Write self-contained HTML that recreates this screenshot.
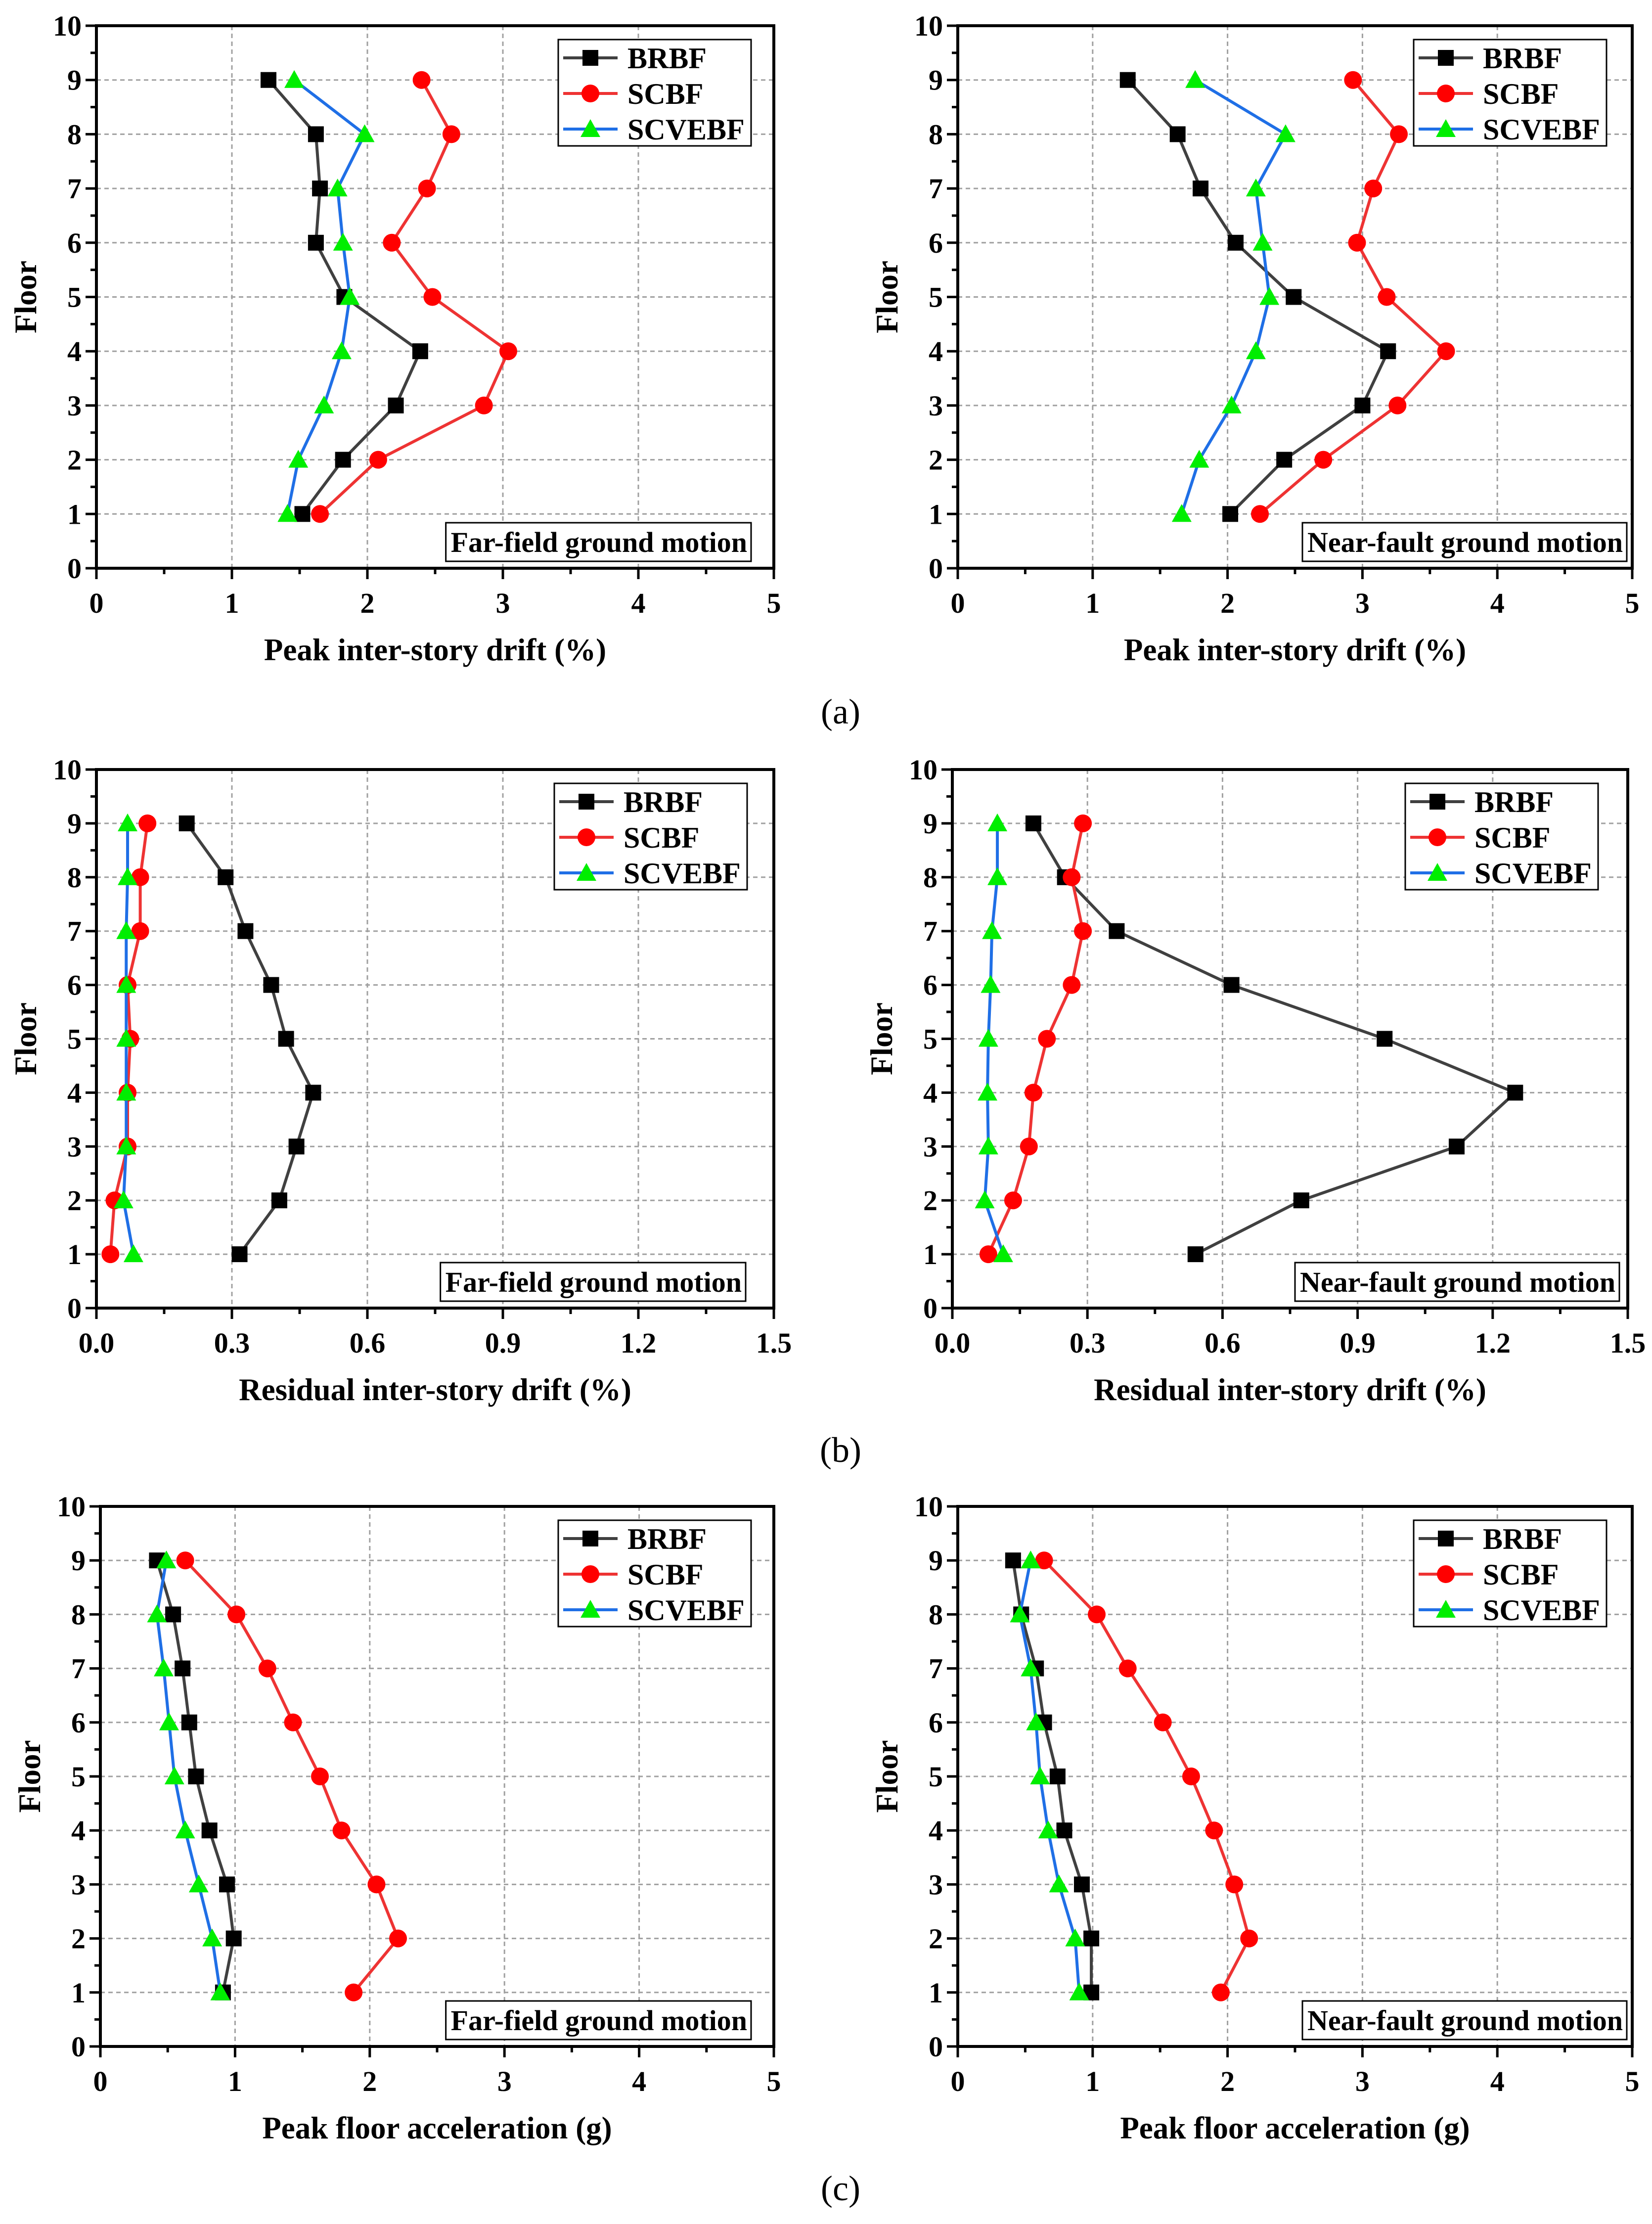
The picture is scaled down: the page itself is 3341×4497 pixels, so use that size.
<!DOCTYPE html>
<html><head><meta charset="utf-8">
<style>
html,body{margin:0;padding:0;background:#fff;}
svg{display:block;font-family:"Liberation Serif","DejaVu Serif",serif;font-weight:bold;}
</style></head>
<body>
<svg id="fig" width="3341" height="4497" viewBox="0 0 3341 4497" xmlns="http://www.w3.org/2000/svg">
<rect width="3341" height="4497" fill="#fff"/>
<text x="1700" y="1463" font-size="72" font-weight="normal" text-anchor="middle">(a)</text>
<text x="1700" y="2956" font-size="72" font-weight="normal" text-anchor="middle">(b)</text>
<text x="1700" y="4449" font-size="72" font-weight="normal" text-anchor="middle">(c)</text>
</svg>
<script>
const floors = [1,2,3,4,5,6,7,8,9];
const seriesNames = ["BRBF","SCBF","SCVEBF"];
// (a) peak drift far-field
const aFarBRBF   = [1.52,1.82,2.21,2.39,1.83,1.62,1.65,1.62,1.27];
const aFarSCBF   = [1.65,2.08,2.86,3.04,2.48,2.18,2.44,2.62,2.40];
const aFarSCVEBF = [1.41,1.49,1.68,1.81,1.87,1.82,1.78,1.98,1.46];
// (a) peak drift near-fault
const aNearBRBF   = [2.02,2.42,3.00,3.19,2.49,2.06,1.80,1.63,1.26];
const aNearSCBF   = [2.24,2.71,3.26,3.62,3.18,2.96,3.08,3.27,2.93];
const aNearSCVEBF = [1.66,1.79,2.03,2.21,2.31,2.26,2.21,2.43,1.76];
// (b) residual drift far-field
const bFarBRBF   = [0.317,0.405,0.443,0.48,0.42,0.387,0.33,0.286,0.20];
const bFarSCBF   = [0.031,0.040,0.069,0.069,0.075,0.069,0.097,0.097,0.113];
const bFarSCVEBF = [0.082,0.060,0.066,0.066,0.066,0.066,0.066,0.069,0.069];
// (b) residual drift near-fault
const bNearBRBF   = [0.54,0.775,1.12,1.25,0.96,0.62,0.365,0.25,0.18];
const bNearSCBF   = [0.08,0.135,0.17,0.18,0.21,0.265,0.29,0.265,0.29];
const bNearSCVEBF = [0.113,0.072,0.08,0.078,0.08,0.085,0.088,0.10,0.10];
// (c) peak floor acceleration far-field
const cFarBRBF   = [0.91,0.99,0.94,0.81,0.71,0.66,0.61,0.54,0.42];
const cFarSCBF   = [1.88,2.21,2.05,1.79,1.63,1.43,1.24,1.01,0.63];
const cFarSCVEBF = [0.89,0.83,0.73,0.63,0.55,0.51,0.47,0.42,0.49];
// (c) peak floor acceleration near-fault
const cNearBRBF   = [0.99,0.99,0.92,0.79,0.74,0.64,0.58,0.47,0.41];
const cNearSCBF   = [1.95,2.16,2.05,1.90,1.73,1.52,1.26,1.03,0.64];
const cNearSCVEBF = [0.90,0.87,0.75,0.67,0.61,0.58,0.54,0.46,0.54];
const ticks05 = ["0","1","2","3","4","5"];
const ticks15 = ["0.0","0.3","0.6","0.9","1.2","1.5"];
const yTicks = ["0","1","2","3","4","5","6","7","8","9","10"];

const NS="http://www.w3.org/2000/svg";
const svg=document.getElementById('fig');
function mk(tag,attrs,parent){const e=document.createElementNS(NS,tag);for(const k in attrs)e.setAttribute(k,attrs[k]);(parent||svg).appendChild(e);return e;}

const panels=[
 {id:"a-far",L:195,R:1565,T:52,B:1149,xmax:5,xt:ticks05,title:"Peak inter-story drift (%)",note:"Far-field ground motion",noteR:46,legR:46,data:[aFarBRBF,aFarSCBF,aFarSCVEBF]},
 {id:"a-near",L:1937,R:3301,T:52,B:1149,xmax:5,xt:ticks05,title:"Peak inter-story drift (%)",note:"Near-fault ground motion",noteR:11,legR:52,data:[aNearBRBF,aNearSCBF,aNearSCVEBF]},
 {id:"b-far",L:195,R:1565,T:1556,B:2645,xmax:1.5,xt:ticks15,title:"Residual inter-story drift (%)",note:"Far-field ground motion",noteR:57,legR:54,data:[bFarBRBF,bFarSCBF,bFarSCVEBF]},
 {id:"b-near",L:1926,R:3292,T:1556,B:2645,xmax:1.5,xt:ticks15,title:"Residual inter-story drift (%)",note:"Near-fault ground motion",noteR:17,legR:60,data:[bNearBRBF,bNearSCBF,bNearSCVEBF]},
 {id:"c-far",L:203,R:1565,T:3046,B:4138,xmax:5,xt:ticks05,title:"Peak floor acceleration (g)",note:"Far-field ground motion",noteR:46,legR:46,data:[cFarBRBF,cFarSCBF,cFarSCVEBF]},
 {id:"c-near",L:1937,R:3301,T:3046,B:4138,xmax:5,xt:ticks05,title:"Peak floor acceleration (g)",note:"Near-fault ground motion",noteR:11,legR:52,data:[cNearBRBF,cNearSCBF,cNearSCVEBF]}
];
const lineCol=["#404040","#ee3333","#1f6fe6"];
const markCol=["#000000","#ff0000","#00ee00"];

function marker(g,k,x,y){
  let m;
  if(k===0){m=mk('rect',{x:x-16,y:y-16,width:32,height:32,fill:markCol[0]},g);}
  else if(k===1){m=mk('circle',{cx:x,cy:y,r:18,fill:markCol[1]},g);}
  else {m=mk('polygon',{points:`${x},${y-20} ${x-20},${y+16} ${x+20},${y+16}`,fill:markCol[2]},g);}
  return m;
}

panels.forEach(p=>{
  const g=mk('g',{});
  
  
  const xs=v=>p.L+(v/p.xmax)*(p.R-p.L);
  const ys=v=>p.B-(v/10)*(p.B-p.T);
  for(let i=1;i<5;i++){
    const gx=mk('line',{x1:xs(p.xmax*i/5),x2:xs(p.xmax*i/5),y1:p.T,y2:p.B,stroke:'#a0a0a0','stroke-width':3,'stroke-dasharray':'9,7'},g);
    
    
  }
  for(let i=1;i<10;i++){
    const gy=mk('line',{x1:p.L,x2:p.R,y1:ys(i),y2:ys(i),stroke:'#a0a0a0','stroke-width':3,'stroke-dasharray':'9,7'},g);
    
    
  }
  for(let i=0;i<=10;i++){
    const v=p.xmax*i/10;
    mk('line',{x1:xs(v),x2:xs(v),y1:p.B,y2:p.B+(i%2?12:22),stroke:'#000','stroke-width':5},g);
  }
  for(let i=0;i<=20;i++){
    mk('line',{x1:p.L,x2:p.L-(i%2?12:22),y1:ys(i/2),y2:ys(i/2),stroke:'#000','stroke-width':5},g);
  }
  p.xt.forEach((t,i)=>{
    const tx=mk('text',{x:xs(p.xmax*i/5),y:p.B+90,'font-size':58,'text-anchor':'middle'},g);
    tx.textContent=t;
    
    
  });
  yTicks.forEach((t,i)=>{
    const ty=mk('text',{x:p.L-30,y:ys(i)+20,'font-size':58,'text-anchor':'end'},g);
    ty.textContent=t;
    
    
  });
  const xt=mk('text',{x:(p.L+p.R)/2,y:p.B+186,'font-size':63,'text-anchor':'middle'},g);
  xt.textContent=p.title;
  
  
  const yx=p.L-122, yy=(p.T+p.B)/2;
  const yt=mk('text',{x:yx,y:yy,'font-size':63,'text-anchor':'middle',transform:`rotate(-90 ${yx} ${yy})`},g);
  yt.textContent="Floor";
  
  
  p.data.forEach((arr,k)=>{
    const sg=mk('g',{},g);
    
    
    const pts=arr.map((v,i)=>xs(v)+','+ys(floors[i])).join(' ');
    mk('polyline',{points:pts,fill:'none',stroke:lineCol[k],'stroke-width':6,'stroke-linejoin':'round'},sg);
    arr.forEach((v,i)=>{
      const m=marker(sg,k,xs(v),ys(floors[i]));
      
      
    });
  });
  mk('rect',{x:p.L,y:p.T,width:p.R-p.L,height:p.B-p.T,fill:'none',stroke:'#000','stroke-width':6},g);
  const lw=390,lh=215,lx=p.R-p.legR-lw,ly=p.T+28;
  const lg=mk('g',{},g);
  
  
  mk('rect',{x:lx,y:ly,width:lw,height:lh,fill:'#fff',stroke:'#000','stroke-width':3},lg);
  seriesNames.forEach((n,k)=>{
    const cy=ly+37+k*72;
    const eg=mk('g',{},lg);
    
    
    mk('line',{x1:lx+10,x2:lx+120,y1:cy,y2:cy,stroke:lineCol[k],'stroke-width':6},eg);
    marker(eg,k,lx+65,cy);
    const t=mk('text',{x:lx+140,y:cy+21,'font-size':60},eg);
    t.textContent=n;
  });
  const ag=mk('g',{},g);
  
  
  const box=mk('rect',{y:p.B-92,height:78,fill:'#fff',stroke:'#000','stroke-width':3},ag);
  const at=mk('text',{y:p.B-33,'font-size':58,'text-anchor':'end',x:p.R-p.noteR-8},ag);
  at.textContent=p.note;
  let w=640; try{w=at.getComputedTextLength();}catch(e){}
  box.setAttribute('x',p.R-p.noteR-w-18);
  box.setAttribute('width',w+18);
});
</script>
</body></html>
